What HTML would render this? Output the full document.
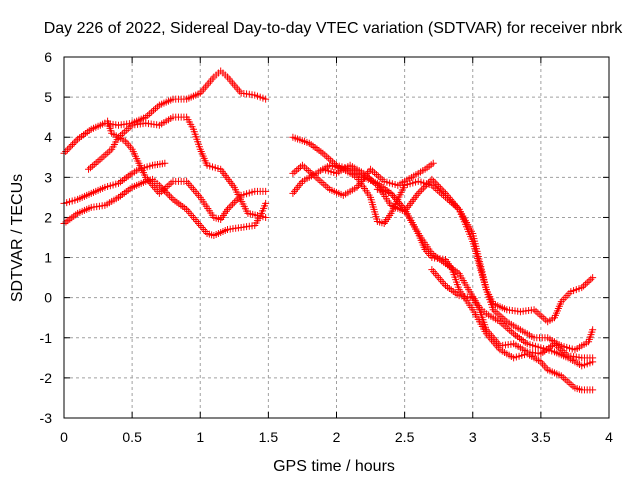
<!DOCTYPE html>
<html><head><meta charset="utf-8"><style>
body{margin:0;background:#fff}
svg text{font-family:"Liberation Sans",sans-serif;font-size:14px;fill:#000}
svg text.big{font-size:16px}
</style></head><body>
<svg width="640" height="480" id="c">
<text class="big" x="333" y="33" text-anchor="middle">Day 226 of 2022, Sidereal Day-to-day VTEC variation (SDTVAR) for receiver nbrk</text>
<text class="big" x="334" y="471" text-anchor="middle">GPS time / hours</text>
<text class="big" transform="translate(22,238) rotate(-90)" text-anchor="middle">SDTVAR / TECUs</text>
<g id="grid"></g>
<g id="ticks"></g>
<g id="marks"></g>
<rect x="64" y="57" width="545" height="361" fill="none" stroke="#000" stroke-width="1"/>
</svg>
<script>
const xTicks=[0,0.5,1,1.5,2,2.5,3,3.5,4];
const xTickLabels=["0","0.5","1","1.5","2","2.5","3","3.5","4"];
const yTicks=[-3,-2,-1,0,1,2,3,4,5,6];
const yTickLabels=["-3","-2","-1","0","1","2","3","4","5","6"];
const sA=[[0,3.6],[0.1,3.95],[0.2,4.2],[0.3,4.35],[0.4,4.3],[0.5,4.35],[0.6,4.5],[0.7,4.8],[0.8,4.95],[0.9,4.95],[1.0,5.1],[1.1,5.5],[1.15,5.65],[1.2,5.5],[1.3,5.1],[1.4,5.05],[1.48,4.95]];
const sB=[[0.18,3.2],[0.25,3.4],[0.35,3.7],[0.4,4.0],[0.5,4.3],[0.6,4.35],[0.7,4.3],[0.8,4.5],[0.9,4.5],[0.95,4.2],[1.0,3.7],[1.05,3.3],[1.15,3.2],[1.25,2.75],[1.35,2.1],[1.42,2.05],[1.48,2.0]];
const sC=[[0.32,4.4],[0.35,4.1],[0.45,3.9],[0.5,3.7],[0.6,3.0],[0.7,2.6],[0.8,2.9],[0.9,2.9],[1.0,2.5],[1.1,2.0],[1.15,1.95],[1.2,2.2],[1.3,2.55],[1.4,2.65],[1.48,2.65]];
const sD=[[0,2.35],[0.1,2.45],[0.2,2.6],[0.3,2.75],[0.4,2.85],[0.5,3.1],[0.55,3.2],[0.65,3.3],[0.74,3.35]];
const sE=[[0,1.85],[0.1,2.1],[0.2,2.25],[0.3,2.3],[0.4,2.5],[0.5,2.75],[0.6,2.9],[0.65,2.95],[0.7,2.8],[0.8,2.45],[0.9,2.2],[1.0,1.8],[1.05,1.6],[1.1,1.55],[1.2,1.7],[1.3,1.75],[1.4,1.8],[1.45,2.1],[1.48,2.35]];
const r1=[[1.68,4.0],[1.8,3.85],[1.9,3.6],[2.0,3.3],[2.1,3.2],[2.2,3.0],[2.3,2.85],[2.4,2.6],[2.5,2.2],[2.6,1.6],[2.7,1.1],[2.8,0.85],[2.9,0.6],[2.97,0.2],[3.05,-0.25],[3.1,-0.4],[3.2,-0.6],[3.3,-0.9],[3.4,-1.15],[3.5,-1.25],[3.6,-1.35],[3.7,-1.5],[3.8,-1.7],[3.88,-1.6]];
const r2=[[1.68,3.1],[1.75,3.3],[1.85,3.0],[1.95,2.7],[2.05,2.55],[2.15,2.75],[2.25,3.2],[2.35,2.9],[2.45,2.8],[2.55,3.0],[2.65,3.2],[2.71,3.35]];
const r3=[[1.68,2.6],[1.75,2.9],[1.85,3.1],[1.95,3.3],[2.05,3.2],[2.15,3.0],[2.25,2.5],[2.3,1.9],[2.35,1.85],[2.4,2.1],[2.5,2.8],[2.6,2.9],[2.7,2.8],[2.8,2.5],[2.9,2.2],[3.0,1.6],[3.05,0.9],[3.1,0.2],[3.15,-0.15],[3.25,-0.3],[3.35,-0.35],[3.45,-0.3],[3.55,-0.6],[3.6,-0.5],[3.65,-0.1],[3.72,0.15],[3.8,0.25],[3.88,0.5]];
const r4=[[1.9,3.2],[2.0,3.1],[2.1,3.3],[2.2,3.1],[2.3,2.8],[2.4,2.3],[2.5,2.15],[2.6,2.6],[2.7,2.95],[2.8,2.6],[2.9,2.2],[3.0,1.4],[3.05,0.8],[3.1,0.2],[3.15,-0.3],[3.25,-0.6],[3.35,-0.8],[3.45,-1.0],[3.55,-1.0],[3.65,-1.2],[3.75,-1.3],[3.85,-1.1],[3.88,-0.8]];
const r5=[[2.3,2.7],[2.4,2.6],[2.5,2.2],[2.6,1.6],[2.65,1.2],[2.7,1.0],[2.8,0.95],[2.85,0.7],[2.9,0.2],[3.0,-0.3],[3.05,-0.6],[3.1,-0.9],[3.2,-1.3],[3.3,-1.5],[3.4,-1.4],[3.5,-1.6],[3.55,-1.8],[3.65,-1.95],[3.75,-2.25],[3.8,-2.3],[3.88,-2.3]];
const r6=[[2.7,0.7],[2.8,0.3],[2.9,0.05],[3.0,0.0],[3.05,-0.3],[3.1,-0.8],[3.2,-1.2],[3.3,-1.15],[3.4,-1.35],[3.5,-1.4],[3.6,-1.15],[3.7,-1.45],[3.8,-1.5],[3.88,-1.5]];
const series=[sA,sB,sC,sD,sE,r1,r2,r3,r4,r5,r6];
const NS="http://www.w3.org/2000/svg";
const X0=64,X1=609,Y0=418,Y1=57;
function sx(v){return X0+(v-0)/(4-0)*(X1-X0);}
function sy(v){return Y0-(v+3)/(9)*(Y0-Y1);}
const grid=document.getElementById('grid'),ticks=document.getElementById('ticks'),marks=document.getElementById('marks');
function mk(t,a,p){const e=document.createElementNS(NS,t);for(const k in a)e.setAttribute(k,a[k]);p.appendChild(e);return e;}
xTicks.forEach((t,i)=>{const x=sx(t);
 if(i>0&&i<xTicks.length-1){const g=mk('line',{x1:x,x2:x,y1:Y1,y2:Y0,stroke:'#a0a0a0','stroke-dasharray':'3,3'},grid);
 
 }
 mk('line',{x1:x,x2:x,y1:Y0,y2:Y0-6,stroke:'#000'},ticks);mk('line',{x1:x,x2:x,y1:Y1,y2:Y1+6,stroke:'#000'},ticks);
 const l=mk('text',{x:x,y:Y0+24,'text-anchor':'middle'},ticks);l.textContent=xTickLabels[i];
 
 });
yTicks.forEach((t,i)=>{const y=sy(t);
 if(i>0&&i<yTicks.length-1){const g=mk('line',{x1:X0,x2:X1,y1:y,y2:y,stroke:'#a0a0a0','stroke-dasharray':'3,3'},grid);
 
 }
 mk('line',{x1:X0,x2:X0+6,y1:y,y2:y,stroke:'#000'},ticks);mk('line',{x1:X1,x2:X1-6,y1:y,y2:y,stroke:'#000'},ticks);
 const l=mk('text',{x:X0-12,y:y+5,'text-anchor':'end'},ticks);l.textContent=yTickLabels[i];
 
 });
series.forEach((s,si)=>{const g=mk('g',{stroke:'#f00','stroke-width':1},marks);
 
 
 let d='';
 for(let i=0;i<s.length-1;i++){const ax=sx(s[i][0]),ay=sy(s[i][1]),bx=sx(s[i+1][0]),by=sy(s[i+1][1]);
  const len=Math.hypot(bx-ax,by-ay),n=Math.max(1,Math.round(len/2.6));
  for(let k=0;k<n;k++){const x=ax+(bx-ax)*k/n,y=ay+(by-ay)*k/n;d+=`M${x-3.5},${y}h7M${x},${y-3.5}v7`;}}
 const L=s[s.length-1];const x=sx(L[0]),y=sy(L[1]);d+=`M${x-3.5},${y}h7M${x},${y-3.5}v7`;
 mk('path',{d:d,fill:'none'},g);});
</script>
</body></html>
